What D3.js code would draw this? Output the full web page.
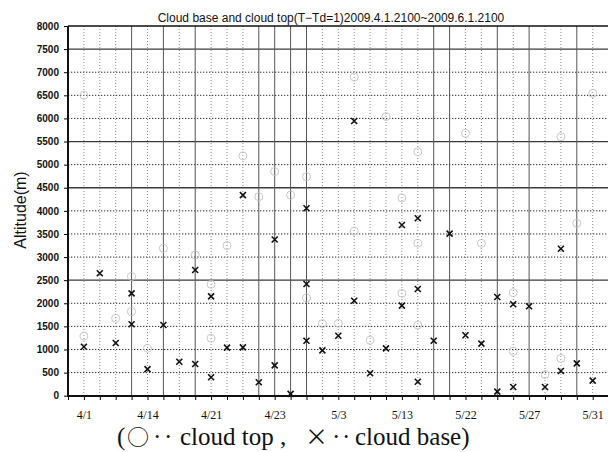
<!DOCTYPE html>
<html>
<head>
<meta charset="utf-8">
<script src="https://cdn.jsdelivr.net/npm/d3@7"></script>
<style>
	body { margin: 0; background: #fff; }
</style>
</head>
<body>
<div class="customChart"></div>
<script>
// labelled dates, one label every 4th slot starting at slot 1
const dateLabels = ["4/1", "4/14", "4/21", "4/23", "5/3", "5/13", "5/22", "5/27", "5/31"];
const labelEvery = 4;
const slotCount = 34;

// y ticks
const altTicks = d3.range(0, 8001, 500);
const solidAlt = [2500, 4500, 5500, 7500];
const solidSlots = [4, 6, 8, 12, 13, 14, 15, 23, 24, 27, 29, 32];

// cloud base (x marks), one entry per slot 1..33, several layers per day possible
const cloudBase = [
	[1060], [2650], [1140], [2215, 1545], [575], [1530], [735], [2720, 685], [2150, 400], [1040],
	[4340, 1047], [290], [3380, 657], [40], [4055, 2417, 1190], [982], [1298], [5945, 2055], [485], [1025],
	[3694, 1948], [3839, 2309, 303], [1190], [3506], [1307], [1126], [2136, 87], [1978, 188], [1935], [188],
	[3181, 535], [700], [325]
];

// cloud top (circles), same slots
const cloudTop = [
	[6500, 1290], [], [1675], [2580, 1820], [1025], [3190], [], [3045], [2410, 1245], [3250],
	[5190], [4307], [4850], [4343], [4740, 2115], [1560], [1567], [6900, 3560], [1200], [6040],
	[4280, 2215], [5280, 3300, 1530], [], [], [5680], [3298], [], [2230, 960], [], [460],
	[5605, 808], [3730], [6544]
];

const margin = ({top: 26, right: 0, bottom: 56, left: 68});
const width = 608 - margin.left;
const height = 452 - margin.top - margin.bottom;

const svg = d3.select('.customChart')
	.append('svg')
	.attr('width', 608)
	.attr('height', 452)
	.style('font-family', '"Liberation Sans", Arial, sans-serif');

svg.append('rect').attr('width', 608).attr('height', 452).attr('fill', '#fff');

const g = svg.append('g')
	.attr('transform', `translate(${margin.left},${margin.top})`);

const xScale = d3.scaleLinear()
	.domain([0, slotCount])
	.range([0, 540.6]);

const yScale = d3.scaleLinear()
	.domain([0, 8000])
	.range([369.7, 0]);

// horizontal grid
g.append('g')
	.selectAll('line')
	.data(altTicks.filter(d => d > 0 && d < 8000))
	.join('line')
	.attr('x1', 0)
	.attr('x2', width)
	.attr('y1', d => yScale(d))
	.attr('y2', d => yScale(d))
	.attr('stroke', d => solidAlt.includes(d) ? '#3a3a3a' : '#2a2a2a')
	.attr('stroke-width', d => solidAlt.includes(d) ? 1.3 : 1)
	.attr('stroke-dasharray', d => solidAlt.includes(d) ? null : '1.3,1.7');

// vertical grid
g.append('g')
	.selectAll('line')
	.data(d3.range(1, slotCount + 1))
	.join('line')
	.attr('x1', d => xScale(d))
	.attr('x2', d => xScale(d))
	.attr('y1', 0)
	.attr('y2', height)
	.attr('stroke', d => solidSlots.includes(d) ? '#555' : '#8a8a8a')
	.attr('stroke-width', 1)
	.attr('stroke-dasharray', d => solidSlots.includes(d) ? null : '1,2');

// axes
const yAxis = d3.axisLeft(yScale)
	.tickValues(altTicks)
	.tickFormat(d3.format('d'))
	.tickSize(4)
	.tickPadding(5);

const leftAxis = g.append('g')
	.attr('class', 'axis y-axis')
	.call(yAxis);

leftAxis.select('.domain').remove();
leftAxis.selectAll('text')
	.attr('font-size', 10)
	.attr('font-weight', 'bold')
	.attr('fill', '#111');

const xAxis = d3.axisBottom(xScale)
	.tickValues(d3.range(0, slotCount + 1))
	.tickSize(4)
	.tickPadding(10)
	.tickFormat(d => (d - 1) % labelEvery === 0 && d >= 1 ? dateLabels[(d - 1) / labelEvery] || '' : '');

const bottomAxis = g.append('g')
	.attr('class', 'axis x-axis')
	.attr('transform', `translate(0, ${height})`)
	.call(xAxis);

bottomAxis.select('.domain').remove();
bottomAxis.selectAll('text')
	.attr('font-family', '"Liberation Serif", "Times New Roman", serif')
	.attr('font-size', 12)
	.attr('fill', '#111');

// frame: left axis, bottom axis, top border
g.append('line').attr('x1', 0).attr('x2', 0).attr('y1', 0).attr('y2', height)
	.attr('stroke', '#111').attr('stroke-width', 2);
g.append('line').attr('x1', -1).attr('x2', width).attr('y1', height).attr('y2', height)
	.attr('stroke', '#111').attr('stroke-width', 2);
g.append('line').attr('x1', 0).attr('x2', width).attr('y1', 0).attr('y2', 0)
	.attr('stroke', '#111').attr('stroke-width', 1.5);

// cloud top circles (very faint in the scan)
const topPoints = cloudTop.flatMap((vals, i) => vals.map(v => ({slot: i + 1, value: v})));
g.append('g')
	.attr('fill', 'none')
	.attr('stroke', '#c2c2c2')
	.attr('stroke-width', 0.9)
	.selectAll('circle')
	.data(topPoints)
	.join('circle')
	.attr('cx', d => xScale(d.slot))
	.attr('cy', d => yScale(d.value))
	.attr('r', 4);

// cloud base crosses
const basePoints = cloudBase.flatMap((vals, i) => vals.map(v => ({slot: i + 1, value: v})));
g.append('g')
	.attr('fill', 'none')
	.attr('stroke', '#111')
	.attr('stroke-width', 1.6)
	.selectAll('path')
	.data(basePoints)
	.join('path')
	.attr('transform', d => `translate(${xScale(d.slot)},${yScale(d.value)})`)
	.attr('d', 'M-3,-3L3,3M-3,3L3,-3');

// title
svg.append('text')
	.attr('x', 331)
	.attr('y', 22)
	.attr('text-anchor', 'middle')
	.attr('font-size', 12)
	.attr('fill', '#111')
	.text('Cloud base and cloud top(T\u2212Td=1)2009.4.1.2100~2009.6.1.2100');

// y label
svg.append('text')
	.attr('transform', 'translate(26, 210) rotate(-90)')
	.attr('text-anchor', 'middle')
	.attr('font-size', 16)
	.attr('fill', '#111')
	.text('Altitude(m)');

// legend line under the chart
const serif = '"Liberation Serif", "Times New Roman", serif';
const cjk = '"Noto Sans CJK JP", "DejaVu Sans", sans-serif';
const legendParts = [
	{x: 117, text: '(', font: serif, size: 25},
	{x: 127, text: '\u25CB', font: cjk, size: 22},
	{x: 153, text: '\u00B7', font: serif, size: 25},
	{x: 164, text: '\u00B7', font: serif, size: 25},
	{x: 180, text: 'cloud top ,', font: serif, size: 25},
	{x: 305, text: '\u00D7', font: cjk, size: 23},
	{x: 332, text: '\u00B7', font: serif, size: 25},
	{x: 342, text: '\u00B7', font: serif, size: 25},
	{x: 355, text: 'cloud base)', font: serif, size: 25}
];

svg.append('text')
	.attr('y', 445)
	.attr('fill', '#111')
	.selectAll('tspan')
	.data(legendParts)
	.join('tspan')
	.attr('x', d => d.x)
	.attr('font-family', d => d.font)
	.attr('font-size', d => d.size)
	.text(d => d.text);
</script>
</body>
</html>
